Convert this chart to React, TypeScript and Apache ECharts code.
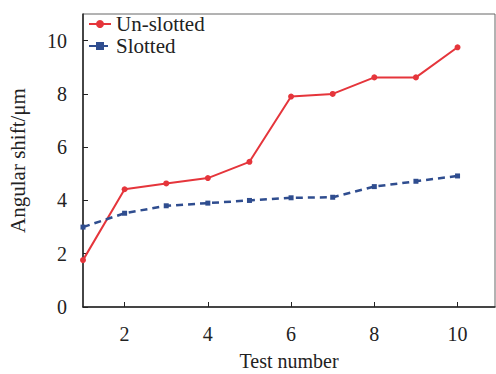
import React, { useEffect, useRef } from "react";
import * as echarts from "echarts";

const testNumbers = [1, 2, 3, 4, 5, 6, 7, 8, 9, 10];
const unSlotted = [1.76, 4.42, 4.64, 4.84, 5.45, 7.9, 8.0, 8.62, 8.62, 9.75];
const slotted = [3.0, 3.52, 3.8, 3.9, 4.0, 4.1, 4.12, 4.52, 4.72, 4.92];
const xTickValues = [2, 4, 6, 8, 10];
const yTickValues = [0, 2, 4, 6, 8, 10];

const FONT = "Liberation Serif";

export default function App() {
  const ref = useRef<HTMLDivElement>(null);
  useEffect(() => {
    if (!ref.current) return;
    const chart = echarts.init(ref.current, undefined, { renderer: "svg" });
    chart.setOption({
      animation: false,
      textStyle: { fontFamily: FONT },
      grid: {
        left: 83,
        right: 1,
        top: 14,
        bottom: 67,
        outerBoundsMode: "none",
        containLabel: false,
        show: true,
        borderColor: "#666",
        borderWidth: 1,
      },
      legend: {
        orient: "vertical",
        left: 83,
        top: 8,
        itemWidth: 22,
        itemHeight: 10,
        itemGap: 0,
        textStyle: { fontFamily: FONT, fontSize: 21, color: "#222", lineHeight: 22 },
        data: ["Un-slotted", "Slotted"],
      },
      xAxis: {
        type: "value",
        min: 1,
        max: 10.9,
        interval: 1,
        name: "Test number",
        nameLocation: "middle",
        nameGap: 44,
        nameTextStyle: { fontFamily: FONT, fontSize: 20, color: "#222" },
        axisLine: { show: true, lineStyle: { color: "#222", width: 1.5 } },
        axisTick: { show: true, inside: true, length: 5, customValues: xTickValues, lineStyle: { color: "#222" } },
        axisLabel: { customValues: xTickValues, fontFamily: FONT, fontSize: 20, color: "#222", margin: 17 },
        splitLine: { show: false },
      },
      yAxis: {
        type: "value",
        min: 0,
        max: 11,
        interval: 2,
        name: "Angular shift/μm",
        nameLocation: "middle",
        nameGap: 55,
        nameTextStyle: { fontFamily: FONT, fontSize: 21, color: "#222" },
        axisLine: { show: true, lineStyle: { color: "#222", width: 1.5 } },
        axisTick: { show: true, inside: true, length: 5, customValues: yTickValues, lineStyle: { color: "#222" } },
        axisLabel: { customValues: yTickValues, fontFamily: FONT, fontSize: 20, color: "#222", margin: 16 },
        splitLine: { show: false },
      },
      series: [
        {
          name: "Un-slotted",
          type: "line",
          data: testNumbers.map((x, i) => [x, unSlotted[i]]),
          symbol: "circle",
          symbolSize: 6,
          itemStyle: { color: "#e5353b" },
          lineStyle: { color: "#e5353b", width: 2 },
        },
        {
          name: "Slotted",
          type: "line",
          data: testNumbers.map((x, i) => [x, slotted[i]]),
          symbol: "rect",
          symbolSize: 5,
          itemStyle: { color: "#2f4d8f" },
          lineStyle: { color: "#2f4d8f", width: 2.5, type: [7, 5] },
        },
      ],
    });
    return () => chart.dispose();
  }, []);
  return <div ref={ref} style={{ width: 496, height: 374, position: "absolute", left: 0, top: 0 }} />;
}
